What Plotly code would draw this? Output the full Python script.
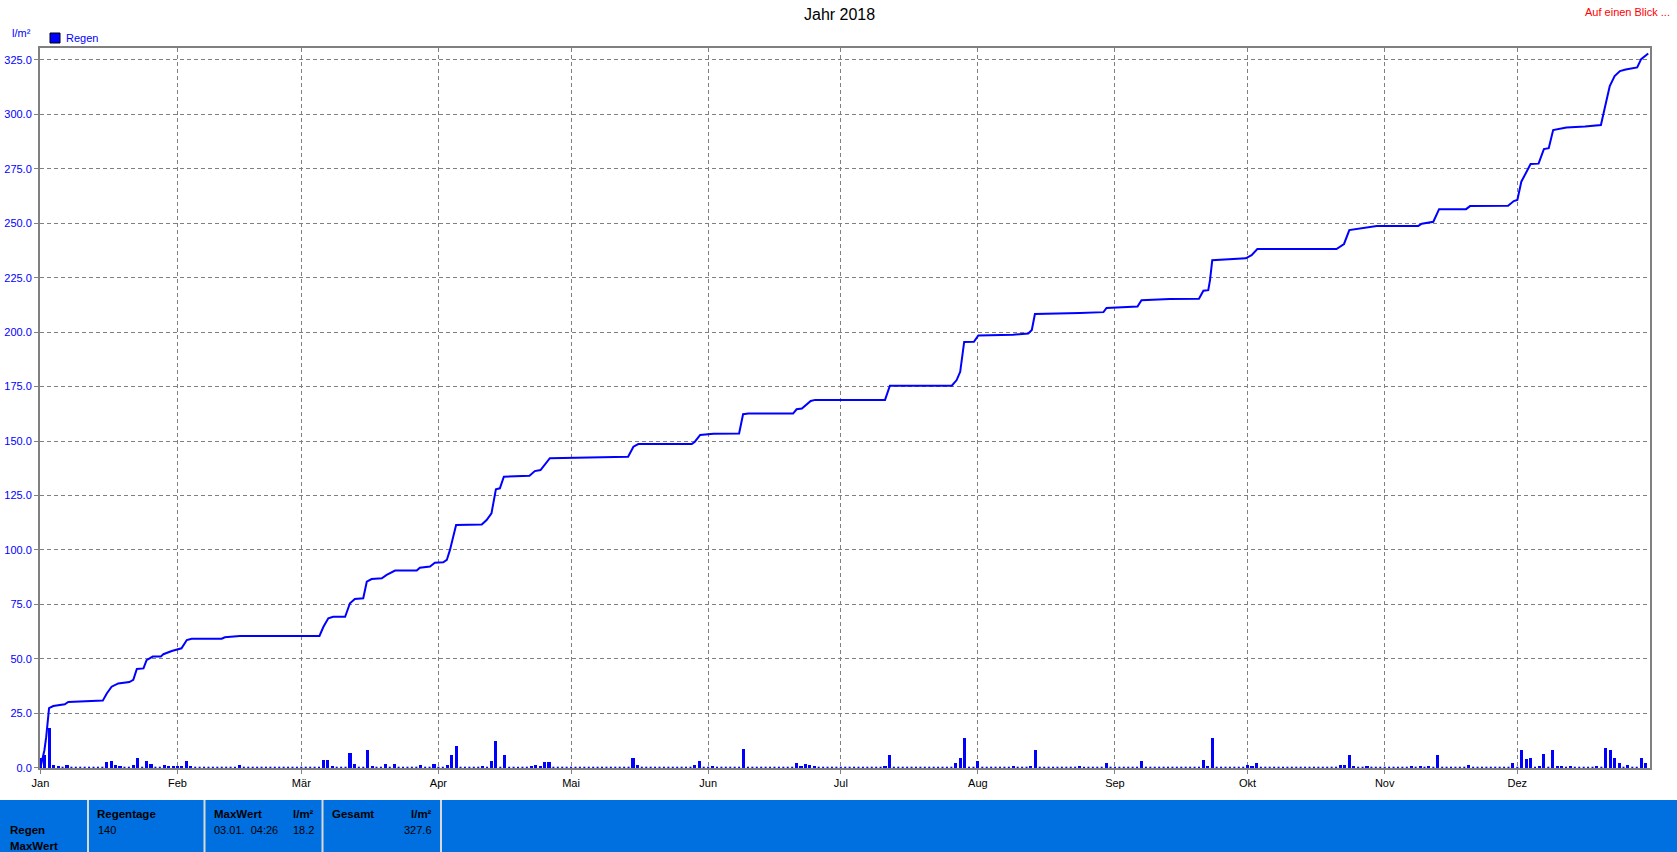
import plotly.graph_objects as go

# ---------------- data ----------------
month_days = [0, 31, 59, 90, 120, 151, 181, 212, 243, 273, 304, 334]
month_labels = ["Jan", "Feb", "Mär", "Apr", "Mai", "Jun", "Jul", "Aug", "Sep", "Okt", "Nov", "Dez"]

# cumulative rain (l/m²), x = days since 1 Jan 2018 00:00
cum_day = [0.0, 0.4, 0.9, 1.3, 1.6, 1.95, 2.9, 5.5, 6.3, 14.1, 15.0, 16.1, 17.6, 20.1, 21.0, 21.8,
           23.3, 24.0, 25.4, 27.2, 27.8, 29.7, 31.9, 33.1, 34.2, 41.0, 41.7, 45.1, 63.1, 64.0, 65.1,
           66.2, 68.9, 70.0, 71.1, 73.0, 73.8, 74.9, 77.2, 78.3, 80.2, 85.1, 85.8, 88.1, 89.2, 91.1,
           91.9, 92.6, 94.0, 99.8, 100.9, 102.0, 103.0, 103.9, 104.8, 110.6, 111.8, 113.1, 115.2,
           129.2, 132.9, 134.1, 135.2, 147.3, 148.0, 149.2, 152.2, 158.0, 158.9, 160.1, 170.2,
           171.0, 172.2, 174.2, 175.2, 191.0, 192.1, 206.1, 207.2, 208.0, 208.9, 211.1, 212.1,
           220.0, 223.4, 224.2, 224.9, 235.1, 240.4, 241.1, 245.3, 248.1, 249.0, 255.4, 262.0,
           263.0, 264.1, 264.5, 265.0, 268.3, 272.6, 273.9, 275.2, 293.1, 294.8, 296.0, 299.9,
           302.2, 311.6, 312.4, 315.0, 316.3, 322.4, 323.3, 331.9, 333.2, 334.0, 334.9, 337.0,
           338.8, 340.0, 341.1, 342.1, 345.1, 349.3, 352.9, 354.0, 354.9, 356.0, 357.2, 358.5,
           361.1, 362.0, 363.6]
cum_value = [0.0, 3.0, 8.0, 14.0, 20.0, 27.3, 28.3, 29.1, 30.2, 30.8, 34.1, 37.2, 38.7, 39.3, 40.3, 45.3,
             45.6, 49.4, 51.0, 51.0, 52.1, 53.6, 54.8, 58.6, 59.2, 59.2, 59.9, 60.5, 60.5, 64.7, 68.6,
             69.3, 69.3, 75.5, 77.5, 77.8, 85.4, 86.6, 87.0, 88.5, 90.5, 90.5, 91.8, 92.4, 94.1, 94.3,
             95.4, 99.9, 111.4, 111.7, 113.7, 116.8, 127.8, 128.3, 133.6, 134.1, 136.2, 136.7, 142.1,
             142.4, 142.8, 147.4, 148.6, 148.6, 149.7, 152.8, 153.3, 153.5, 162.3, 162.6, 162.6,
             164.6, 164.9, 168.4, 168.9, 168.9, 175.4, 175.4, 178.0, 181.8, 195.5, 195.6, 198.5,
             198.8, 199.4, 201.0, 208.3, 208.8, 209.2, 211.1, 211.4, 211.8, 214.7, 215.2, 215.3,
             219.0, 219.3, 223.9, 233.0, 233.4, 233.9, 235.4, 238.2, 238.2, 240.5, 246.9, 247.9,
             248.7, 248.8, 249.8, 250.7, 256.5, 256.5, 257.9, 258.0, 260.2, 260.7, 269.1, 277.2,
             277.4, 284.1, 284.5, 292.8, 294.0, 294.5, 295.1, 305.0, 313.0, 317.6, 319.9, 320.6,
             321.6, 325.4, 328.0]

# daily rain bars (l/m²), x = days since 1 Jan 2018
rain_day = [0, 1, 2, 3, 4, 6, 15, 16, 17, 18, 21, 22, 24, 25, 28, 29, 30, 31, 32, 33, 34, 45,
            64, 65, 66, 70, 71, 74, 75, 78, 80, 86, 89, 92, 93, 94, 100, 102, 103, 105, 111, 112,
            113, 114, 115, 134, 135, 148, 149, 152, 159, 171, 172, 173, 174, 175, 191, 192, 207,
            208, 209, 212, 220, 224, 225, 235, 241, 249, 263, 264, 265, 273, 274, 275, 294, 295,
            296, 297, 300, 310, 312, 314, 316, 323, 333, 335, 336, 337, 339, 340, 342, 343, 344,
            346, 352, 354, 355, 356, 357, 359, 362, 363]
rain_value = [4.6, 5.8, 18.2, 1.4, 0.9, 1.2, 2.8, 3.2, 1.4, 0.5, 1.4, 4.6, 3.2, 1.8, 1.4, 0.5, 0.9,
              0.9, 0.5, 3.2, 0.9, 1.4, 3.7, 3.7, 0.9, 6.6, 1.8, 8.3, 0.5, 1.8, 1.8, 1.4, 1.8, 1.4,
              6.0, 10.1, 0.5, 3.2, 12.4, 6.0, 0.5, 1.4, 0.5, 2.8, 2.8, 4.6, 1.4, 1.4, 3.2, 0.5, 8.7,
              2.3, 0.5, 1.8, 1.4, 0.5, 0.5, 6.0, 2.3, 4.6, 13.8, 3.2, 0.5, 0.9, 8.0, 0.5, 2.3, 3.2,
              3.7, 0.5, 13.8, 1.1, 0.9, 2.3, 1.4, 1.4, 6.0, 0.5, 0.5, 0.5, 0.5, 0.9, 6.0, 1.4, 2.3,
              8.3, 4.1, 4.6, 0.5, 6.4, 8.3, 0.9, 0.5, 0.5, 0.5, 9.2, 8.3, 4.6, 2.3, 1.4, 4.6, 2.3]

dry_day = [d for d in range(364) if d not in set(rain_day)]

stat_regentage = "140"
stat_maxwert_time = "03.01.  04:26"
stat_maxwert = "18.2"
stat_gesamt = "327.6"

# ---------------- layout helpers ----------------
W, H = 1677, 852
PL, PR, PT, PB = 40, 1650, 48, 768


def px(x):
    return (x - PL) / (PR - PL)


def py(y):
    return (PB - y) / (PB - PT)


BLUE = "#0000FF"
GRID = "#808080"
FONT = "Liberation Sans, Arial, sans-serif"

fig = go.Figure()

fig.add_trace(go.Bar(x=rain_day, y=rain_value, width=0.7, marker=dict(color=BLUE, line=dict(width=0)),
                     name="Regen", showlegend=False))
fig.add_trace(go.Scatter(x=dry_day, y=[0] * len(dry_day), mode="markers",
                         marker=dict(symbol="square", size=2, color=BLUE, line=dict(width=0)),
                         showlegend=False, hoverinfo="skip"))
fig.add_trace(go.Scatter(x=cum_day, y=cum_value, mode="lines", line=dict(color=BLUE, width=2),
                         name="Regen", showlegend=False))

axis_common = dict(showgrid=True, gridcolor=GRID, gridwidth=1, griddash="4px,3px",
                   showline=True, linecolor=GRID, linewidth=2, mirror=True,
                   ticks="outside", ticklen=4, tickcolor=GRID, zeroline=False, automargin=False)

fig.update_xaxes(range=[-0.1, 364], tickmode="array", tickvals=month_days, ticktext=month_labels,
                 tickfont=dict(family=FONT, size=11, color="black"), **axis_common)
fig.update_yaxes(range=[-0.15, 330.5], tick0=0, dtick=25, tickformat=".1f",
                 tickfont=dict(family=FONT, size=11, color=BLUE), **axis_common)

annotations = [
    dict(text="Jahr 2018", x=px(839), y=py(15), font=dict(family=FONT, size=16, color="black")),
    dict(text="Auf einen Blick ...", x=px(1672), y=py(12), xanchor="right",
         font=dict(family=FONT, size=11, color="#FF0000")),
    dict(text="l/m²", x=px(21.5), y=py(33), font=dict(family=FONT, size=11, color=BLUE)),
    dict(text="Regen", x=px(64), y=py(38), xanchor="left", font=dict(family=FONT, size=11, color=BLUE)),
    # statistics panel
    dict(text="<b>Regen</b>", x=px(8), y=py(830), xanchor="left", font=dict(family=FONT, size=11.5, color="black")),
    dict(text="<b>MaxWert</b>", x=px(8), y=py(845.5), xanchor="left", font=dict(family=FONT, size=11.5, color="black")),
    dict(text="<b>Regentage</b>", x=px(95), y=py(814), xanchor="left", font=dict(family=FONT, size=11.5, color="black")),
    dict(text=stat_regentage, x=px(96), y=py(830), xanchor="left", font=dict(family=FONT, size=11, color="black")),
    dict(text="<b>MaxWert</b>", x=px(212), y=py(814), xanchor="left", font=dict(family=FONT, size=11.5, color="black")),
    dict(text="<b>l/m²</b>", x=px(316), y=py(814), xanchor="right", font=dict(family=FONT, size=11.5, color="black")),
    dict(text=stat_maxwert_time.replace(" ", "&nbsp;"), x=px(212), y=py(830), xanchor="left",
         font=dict(family=FONT, size=11, color="black")),
    dict(text=stat_maxwert, x=px(316), y=py(830), xanchor="right", font=dict(family=FONT, size=11, color="black")),
    dict(text="<b>Gesamt</b>", x=px(330), y=py(814), xanchor="left", font=dict(family=FONT, size=11.5, color="black")),
    dict(text="<b>l/m²</b>", x=px(434), y=py(814), xanchor="right", font=dict(family=FONT, size=11.5, color="black")),
    dict(text=stat_gesamt, x=px(434), y=py(830), xanchor="right", font=dict(family=FONT, size=11, color="black")),
]
for a in annotations:
    a.update(xref="paper", yref="paper", showarrow=False, yanchor="middle")
    a.setdefault("xanchor", "center")

PANEL = "#0070E0"
DIV = "#D8D8D8"
shapes = [
    dict(type="rect", x0=px(50), x1=px(60), y0=py(33), y1=py(43), fillcolor=BLUE,
         line=dict(color="black", width=1)),
    dict(type="rect", x0=px(0), x1=px(W), y0=py(800), y1=py(H), fillcolor=PANEL, line=dict(width=0), layer="below"),
]
for dx in [88, 204.5, 322.5, 441]:
    shapes.append(dict(type="line", x0=px(dx), x1=px(dx), y0=py(800), y1=py(H), line=dict(color=DIV, width=2)))
for s in shapes:
    s.update(xref="paper", yref="paper")

fig.update_layout(width=W, height=H, margin=dict(l=PL, r=W - PR, t=PT, b=H - PB, autoexpand=False),
                  paper_bgcolor="white", plot_bgcolor="white", showlegend=False,
                  annotations=annotations, shapes=shapes, bargap=0,
                  font=dict(family=FONT, size=11))

fig.write_html("out.html", config={"displayModeBar": False},
               post_script="document.body.style.margin='0';document.body.style.overflow='hidden';")
